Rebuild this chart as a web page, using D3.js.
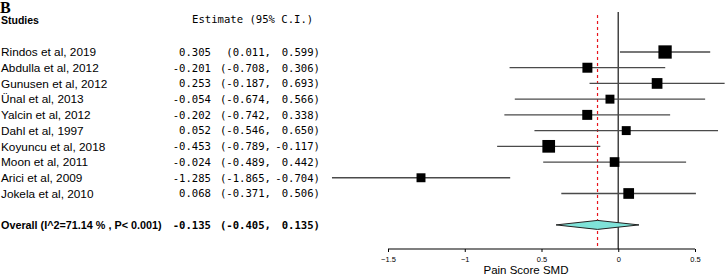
<!DOCTYPE html>
<html>
<head>
<meta charset="utf-8">
<script src="https://cdn.jsdelivr.net/npm/d3@7"></script>
<style>
  body { margin: 0; background: #fff; }
  svg { display: block; }
</style>
</head>
<body>
<div id="forest"></div>
<script>

// study data
var studies = ["Rindos et al, 2019", "Abdulla et al, 2012", "Gunusen et al, 2012", "\u00dcnal et al, 2013",
    "Yalcin et al, 2012", "Dahl et al, 1997", "Koyuncu et al, 2018", "Moon et al, 2011",
    "Arici et al, 2009", "Jokela et al, 2010"];
var estimates = [0.305, -0.201, 0.253, -0.054, -0.202, 0.052, -0.453, -0.024, -1.285, 0.068];
var lower = [0.011, -0.708, -0.187, -0.674, -0.742, -0.546, -0.789, -0.489, -1.865, -0.371];
var upper = [0.599, 0.306, 0.693, 0.566, 0.338, 0.650, -0.117, 0.442, -0.704, 0.506];
// approx weights (%), from square sizes
var weights = [12.8, 9.6, 10.3, 8.6, 9.6, 8.6, 12.2, 9.3, 8.6, 10.3];

var overallLabel = "Overall (I^2=71.14 % , P< 0.001)";
var overall = { est: -0.135, lo: -0.405, hi: 0.135 };

var tickValues = [-1.5, -1, -0.5, 0, 0.5];
var tickLabels = ["\u22121.5", "\u22121", "0.5", "0", "0.5"];

var width = 725, height = 276;

var svg = d3.select("#forest")
    .append("svg")
    .attr("width", width)
    .attr("height", height);

// x scale for the effect sizes
var x = d3.scaleLinear()
    .domain([-1.5, 0.5])
    .range([388, 695]);

// rows: header at -2, studies 0..9, overall at 11
var rowStep = 15.72;
var y = function (i) { return 52 + i * rowStep; };

var size = d3.scaleLinear()
    .domain([0, d3.max(weights)])
    .range([0, 13.3]);

var sans = "'Liberation Sans', Arial, Helvetica, sans-serif";
var mono = "'DejaVu Sans Mono', 'Liberation Mono', monospace";

var fmt = d3.format(".3f");
function num(v) { return fmt(v).replace("\u2212", "-"); }

// panel letter + headers
svg.append("text")
    .attr("x", 0).attr("y", 12.5)
    .style("font-family", "'Liberation Serif', 'Times New Roman', serif")
    .style("font-weight", "bold")
    .style("font-size", "16px")
    .text("B");

svg.append("text")
    .attr("x", 1).attr("y", 24)
    .style("font-family", sans)
    .style("font-weight", "bold")
    .style("font-size", "10.5px")
    .text("Studies");

svg.append("text")
    .attr("x", 192).attr("y", 23)
    .style("font-family", mono)
    .style("font-size", "10.6px")
    .attr("xml:space", "preserve")
    .text("Estimate (95% C.I.)");

// zero line
svg.append("line")
    .attr("x1", x(0)).attr("x2", x(0))
    .attr("y1", 12).attr("y2", 249)
    .attr("stroke", "#444")
    .attr("stroke-width", 1.5);

// summary estimate line (red dashed)
svg.append("line")
    .attr("x1", x(overall.est)).attr("x2", x(overall.est))
    .attr("y1", 15).attr("y2", 249)
    .attr("stroke", "#e8141c")
    .attr("stroke-width", 1.2)
    .attr("stroke-dasharray", "3,3");

var idx = d3.range(studies.length);

// study labels
svg.selectAll("studyLabel")
    .data(idx)
    .enter()
    .append("text")
    .attr("x", 1)
    .attr("y", function (i) { return y(i); })
    .attr("dy", "0.36em")
    .style("font-family", sans)
    .style("font-size", "11.8px")
    .text(function (i) { return studies[i]; });

// estimate columns
function estCols(sel, get) {
    sel.append("text")
        .attr("x", 211)
        .attr("y", function (d) { return get(d).y; })
        .attr("dy", "0.36em")
        .attr("text-anchor", "end")
        .text(function (d) { return num(get(d).est); });
    sel.append("text")
        .attr("x", 271)
        .attr("y", function (d) { return get(d).y; })
        .attr("dy", "0.36em")
        .attr("text-anchor", "end")
        .text(function (d) { return "(" + num(get(d).lo) + ","; });
    sel.append("text")
        .attr("x", 320)
        .attr("y", function (d) { return get(d).y; })
        .attr("dy", "0.36em")
        .attr("text-anchor", "end")
        .text(function (d) { return num(get(d).hi) + ")"; });
}

var rowsG = svg.selectAll("estRow")
    .data(idx)
    .enter()
    .append("g")
    .style("font-family", mono)
    .style("font-size", "10.6px");
estCols(rowsG, function (i) { return { y: y(i), est: estimates[i], lo: lower[i], hi: upper[i] }; });

// CI lines
svg.selectAll("ciLine")
    .data(idx)
    .enter()
    .append("line")
    .attr("x1", function (i) { return x(lower[i]); })
    .attr("x2", function (i) { return x(upper[i]); })
    .attr("y1", function (i) { return y(i); })
    .attr("y2", function (i) { return y(i); })
    .attr("stroke", "#4a4a4a")
    .attr("stroke-width", 1.3);

// squares
svg.selectAll("square")
    .data(idx)
    .enter()
    .append("rect")
    .attr("x", function (i) { return x(estimates[i]) - size(weights[i]) / 2; })
    .attr("y", function (i) { return y(i) - size(weights[i]) / 2; })
    .attr("width", function (i) { return size(weights[i]); })
    .attr("height", function (i) { return size(weights[i]); })
    .attr("fill", "#000");

// overall row
var yo = y(11);
svg.append("text")
    .attr("x", 1).attr("y", yo)
    .attr("dy", "0.36em")
    .style("font-family", sans)
    .style("font-weight", "bold")
    .style("font-size", "10.8px")
    .text(overallLabel);

var ovG = svg.append("g")
    .datum(overall)
    .style("font-family", mono)
    .style("font-weight", "bold")
    .style("font-size", "10.6px");
estCols(ovG, function (d) { return { y: yo, est: d.est, lo: d.lo, hi: d.hi }; });

svg.append("path")
    .attr("d", "M" + x(overall.lo) + "," + yo +
        "L" + x(overall.est) + "," + (yo - 4.5) +
        "L" + x(overall.hi) + "," + yo +
        "L" + x(overall.est) + "," + (yo + 4.5) + "Z")
    .attr("fill", "#7fe3d9")
    .attr("stroke", "#222")
    .attr("stroke-width", 1);

// x axis
var axis = svg.append("g")
    .attr("transform", "translate(0,249)")
    .call(d3.axisBottom(x)
        .tickValues(tickValues)
        .tickSize(3)
        .tickFormat(function (d, i) { return tickLabels[i]; }));
axis.select(".domain").attr("d", "M" + x(-1.5) + ",0H" + x(0.5)).attr("stroke-width", 1.2);
axis.selectAll("text")
    .attr("y", 8)
    .style("font-family", sans)
    .style("font-size", "7.5px");

svg.append("text")
    .attr("x", 526).attr("y", 273.5)
    .attr("text-anchor", "middle")
    .style("font-family", sans)
    .style("font-size", "11.5px")
    .text("Pain Score SMD");

</script>
</body>
</html>
